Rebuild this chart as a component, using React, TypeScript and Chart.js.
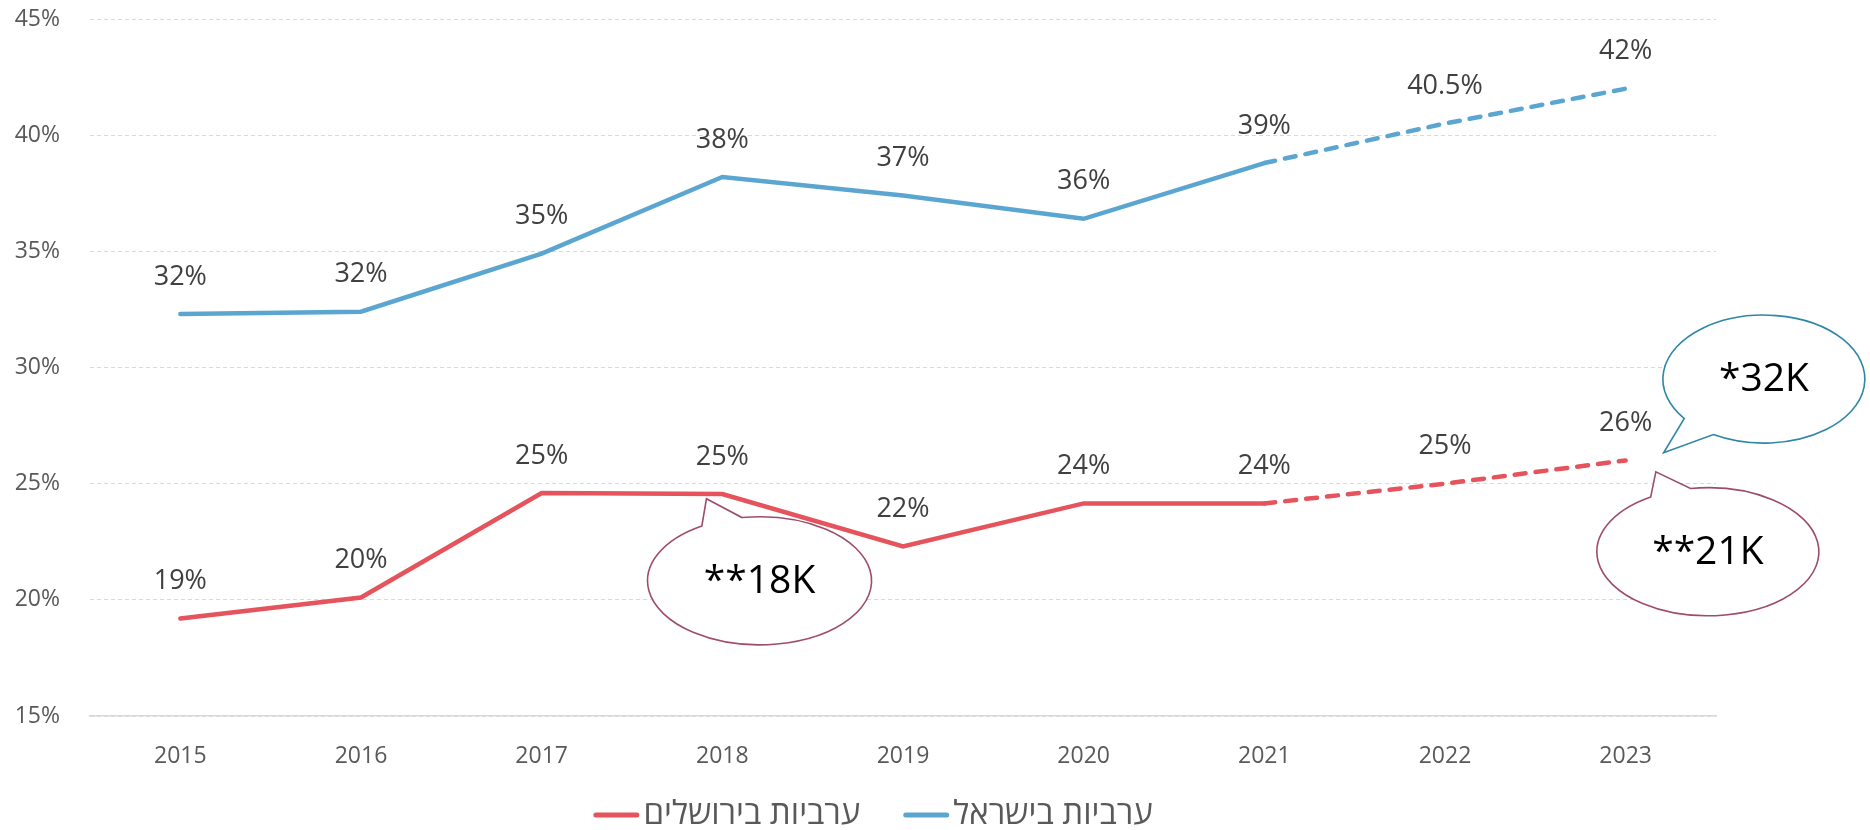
import React, { useEffect, useRef } from "react";
import { Chart, registerables } from "chart.js";

Chart.register(...registerables);

const years = ["2015", "2016", "2017", "2018", "2019", "2020", "2021", "2022", "2023"];
const israelValues = [32.3, 32.4, 34.9, 38.2, 37.4, 36.4, 38.8, 40.5, 42.0];
const jerusalemValues = [19.2, 20.1, 24.6, 24.55, 22.3, 24.15, 24.15, 25.0, 26.0];
const israelLabels = ["32%", "32%", "35%", "38%", "37%", "36%", "39%", "40.5%", "42%"];
const jerusalemLabels = ["19%", "20%", "25%", "25%", "22%", "24%", "24%", "25%", "26%"];
const seriesNames = ["ערביות בירושלים", "ערביות בישראל"];
const yMin = 15;
const yMax = 45;
const yStep = 5;
const forecastStartIndex = 6;

const bubbles = [
  { text: "*32K", x: 8.765, y: 29.5, rx: 101, ry: 64, tipX: 8.21, tipY: 26.33, a1: 120, a2: 142, color: "#2F87A6" },
  { text: "**21K", x: 8.455, y: 22.07, rx: 111, ry: 64, tipX: 8.167, tipY: 25.51, a1: -121, a2: -99, color: "#9E4C6C" },
  { text: "**18K", x: 3.206, y: 20.82, rx: 112, ry: 64, tipX: 2.912, tipY: 24.35, a1: -121, a2: -99, color: "#9E4C6C" },
];

const FONT = "'Open Sans', 'Noto Sans', 'DejaVu Sans', sans-serif";
const RED = "#E5535C";
const BLUE = "#5BA6D1";

const bubblePlugin = {
  id: "bubbles",
  beforeDatasetsDraw(chart: any) {
    const ctx = chart.ctx;
    const xs = chart.scales.x;
    const ys = chart.scales.y;
    ctx.save();
    for (const b of bubbles) {
      const cx = xs.getPixelForValue(b.x);
      const cy = ys.getPixelForValue(b.y);
      const tx = xs.getPixelForValue(b.tipX);
      const ty = ys.getPixelForValue(b.tipY);
      const r1 = (b.a1 * Math.PI) / 180;
      const r2 = (b.a2 * Math.PI) / 180;
      ctx.beginPath();
      ctx.ellipse(cx, cy, b.rx, b.ry, 0, r2, r1 + Math.PI * 2, false);
      ctx.lineTo(tx, ty);
      ctx.closePath();
      ctx.fillStyle = "#ffffff";
      ctx.fill();
      ctx.lineWidth = 1.6;
      ctx.strokeStyle = b.color;
      ctx.stroke();
      ctx.fillStyle = "#000000";
      ctx.font = `39px ${FONT}`;
      ctx.textAlign = "center";
      ctx.textBaseline = "middle";
      ctx.fillText(b.text, cx, cy + 1);
    }
    ctx.restore();
  },
};

const labelPlugin = {
  id: "valueLabels",
  afterDatasetsDraw(chart: any) {
    const ctx = chart.ctx;
    ctx.save();
    ctx.font = `27px ${FONT}`;
    ctx.fillStyle = "#404040";
    ctx.textAlign = "center";
    ctx.textBaseline = "middle";
    chart.data.datasets.forEach((ds: any, i: number) => {
      const meta = chart.getDatasetMeta(i);
      const labels = ds.valueLabels as string[];
      meta.data.forEach((pt: any, j: number) => {
        ctx.fillText(labels[j], pt.x, pt.y - 37);
      });
    });
    ctx.restore();
  },
};

const legendPlugin = {
  id: "customLegend",
  afterDraw(chart: any) {
    const ctx = chart.ctx;
    ctx.save();
    ctx.font = `33px ${FONT}`;
    const lineW = 46;
    const gap = 4;
    const spacing = 43;
    const items = chart.data.datasets.map((ds: any) => ({
      text: ds.label as string,
      color: ds.borderColor as string,
      w: ctx.measureText(ds.label).width,
    }));
    const total = items.reduce((s: number, it: any) => s + lineW + gap + it.w, 0) + spacing * (items.length - 1);
    let x = 873 - total / 2;
    const y = 815;
    for (const it of items) {
      ctx.beginPath();
      ctx.strokeStyle = it.color;
      ctx.lineWidth = 5;
      ctx.lineCap = "round";
      ctx.moveTo(x + 2.5, y);
      ctx.lineTo(x + lineW - 2.5, y);
      ctx.stroke();
      ctx.fillStyle = "#595959";
      ctx.textAlign = "left";
      ctx.textBaseline = "middle";
      ctx.fillText(it.text, x + lineW + gap, y);
      x += lineW + gap + it.w + spacing;
    }
    ctx.restore();
  },
};

export default function App() {
  const canvasRef = useRef<HTMLCanvasElement | null>(null);

  useEffect(() => {
    if (!canvasRef.current) return;
    const dashed = (ctx: any) => (ctx.p0DataIndex >= forecastStartIndex ? [11, 10] : undefined);
    const chart = new Chart(canvasRef.current, {
      type: "line",
      data: {
        labels: years,
        datasets: [
          {
            label: seriesNames[0],
            data: jerusalemValues,
            borderColor: RED,
            backgroundColor: RED,
            borderWidth: 4.5,
            borderCapStyle: "round",
            pointRadius: 0,
            tension: 0,
            segment: { borderDash: dashed },
            valueLabels: jerusalemLabels,
          } as any,
          {
            label: seriesNames[1],
            data: israelValues,
            borderColor: BLUE,
            backgroundColor: BLUE,
            borderWidth: 4.5,
            borderCapStyle: "round",
            pointRadius: 0,
            tension: 0,
            segment: { borderDash: dashed },
            valueLabels: israelLabels,
          } as any,
        ],
      },
      options: {
        animation: false,
        responsive: true,
        maintainAspectRatio: false,
        layout: { padding: { left: 0, right: 154, top: 19, bottom: 0 } },
        plugins: {
          legend: { display: false },
          tooltip: { enabled: false },
        },
        scales: {
          x: {
            offset: true,
            grid: { display: false, drawTicks: false },
            border: { display: true, color: "#D9D9D9", width: 1.5 },
            ticks: { color: "#595959", font: { family: FONT, size: 23 }, padding: 27, maxRotation: 0 },
            afterFit(scale: any) {
              scale.height = 114;
              scale.paddingLeft = 0;
              scale.paddingRight = 0;
            },
          },
          y: {
            min: yMin,
            max: yMax,
            grid: { color: "#D9D9D9", lineWidth: 1, drawTicks: false },
            border: { display: false, dash: [4, 3] },
            ticks: {
              stepSize: yStep,
              color: "#595959",
              font: { family: FONT, size: 23 },
              padding: 30,
              callback: (v: any) => `${v}%`,
            },
            afterFit(scale: any) {
              scale.width = 90;
              scale.paddingTop = 0;
              scale.paddingBottom = 0;
            },
          },
        },
      } as any,
      plugins: [bubblePlugin, labelPlugin, legendPlugin],
    });
    return () => chart.destroy();
  }, []);

  return (
    <div style={{ position: "absolute", left: 0, top: 0, width: 1870, height: 830 }}>
      <canvas ref={canvasRef} />
    </div>
  );
}
